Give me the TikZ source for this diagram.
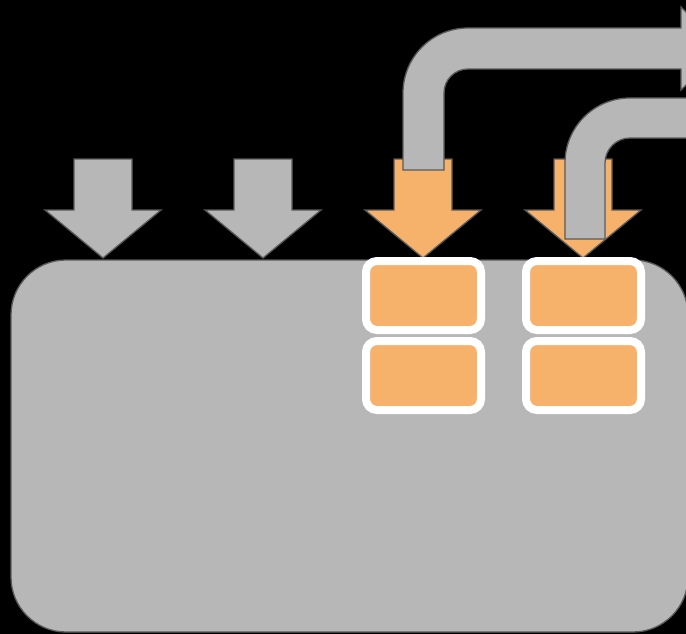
\documentclass[tikz,border=0pt]{standalone}
\begin{document}
\begin{tikzpicture}[x=1pt,y=-1pt,
  edge/.style={draw=edgegray,line width=1.3pt,line join=miter},
  greyfill/.style={edge,fill=pipegray},
  orangefill/.style={edge,fill=lightorange},
  tank/.style={draw=edgegray,line width=1.3pt,fill=pipegray,rounded corners=55pt,
    minimum width=677pt,minimum height=372pt,inner sep=0pt,outer sep=0pt},
  slot/.style={draw=white,line width=8pt,fill=lightorange,rounded corners=11pt,
    minimum width=115pt,minimum height=69pt,inner sep=0pt,outer sep=0pt}]
\definecolor{pipegray}{HTML}{B7B7B7}
\definecolor{edgegray}{HTML}{5A5A5A}
\definecolor{lightorange}{HTML}{F6B26B}

% frame and black backdrop
\useasboundingbox (0,0) rectangle (686,634);
\fill[black] (0,0) rectangle (686,634);
\clip (0,0) rectangle (686,634);

% large container
\node[tank] (tank) at (349.5,446) {};

% downward inlet arrows: \inletarrow{centre x}{style}
\newcommand{\inletarrow}[2]{%
  \path[#2] (#1-29,159) -- (#1+29,159) -- (#1+29,210) -- (#1+58,210)
    -- (#1,258) -- (#1-58,210) -- (#1-29,210) -- cycle;}
\inletarrow{103}{greyfill}
\inletarrow{263}{greyfill}
\inletarrow{423}{orangefill}
\inletarrow{583}{orangefill}

% orange slots inside the container
\node[slot] (s11) at (423.5,295.5) {};
\node[slot] (s21) at (423.5,375.5) {};
\node[slot] (s12) at (583.5,295.5) {};
\node[slot] (s22) at (583.5,375.5) {};

% upper bent pipe ending in an arrow head
\path[greyfill] (403,170) -- (403,93)
  .. controls (403,57.1) and (432.1,28) .. (468,28)
  -- (681,28) -- (681,7) -- (723,48.5) -- (681,90) -- (681,69)
  -- (468,69) .. controls (454.7,69) and (444,79.7) .. (444,93)
  -- (444,170) -- cycle;

% lower bent pipe
\path[greyfill] (565,239) -- (565,163)
  .. controls (565,127.1) and (594.1,98) .. (630,98)
  -- (700,98) -- (700,138)
  -- (630,138) .. controls (616.2,138) and (605,149.2) .. (605,163)
  -- (605,239) -- cycle;
\end{tikzpicture}
\end{document}
